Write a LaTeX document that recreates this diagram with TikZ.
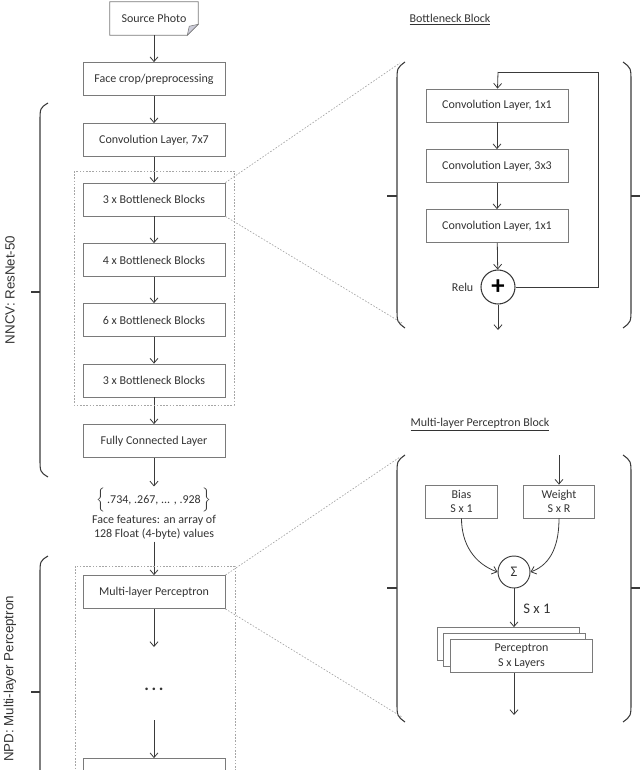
\documentclass[tikz,border=0pt]{standalone}
\usepackage{fontspec}
\setmainfont{Carlito}
\newfontfamily\sidefont{Liberation Sans}
\usetikzlibrary{arrows.meta,calc}

\definecolor{boxgray}{HTML}{7A7A7A}
\definecolor{txtgray}{HTML}{333333}
\definecolor{arrgray}{HTML}{3A3A3A}

\begin{document}
\begin{tikzpicture}[x=0.75pt,y=-0.75pt,
    font=\fontsize{9}{11}\selectfont, text=txtgray,
    layer/.style={draw=boxgray, line width=0.6pt, minimum width=106.5pt, minimum height=24.75pt, inner sep=1pt},
    small/.style={draw=boxgray, line width=0.6pt, minimum width=53.5pt, minimum height=24.75pt, align=center, inner sep=1pt},
    flow/.style={draw=arrgray, line width=0.6pt, -{Straight Barb[length=3.5pt,width=6pt]}},
    plain/.style={draw=arrgray, line width=0.6pt},
    zoomline/.style={draw=gray!70, line width=0.5pt, dash pattern=on 1.2pt off 1.2pt},
    brace/.style={draw=arrgray, line width=0.8pt},
    title/.style={font=\fontsize{9}{11}\selectfont}]

    \useasboundingbox (0,0) rectangle (640,770);
    \clip (0,0) rectangle (640,770);

    % main column
    \node[minimum width=66pt, minimum height=24.75pt] (src) at (154,18.5) {Source Photo};
    \draw[boxgray, line width=0.6pt] (src.north west) -- (src.north east) -- ($(src.south east)+(0,-11)$)
        -- ($(src.south east)+(-11,0)$) -- (src.south west) -- cycle;
    \filldraw[draw=boxgray, fill=blue!15!gray!35, line width=0.4pt] ($(src.south east)+(0,-11)$)
        -- ($(src.south east)+(-11,0)$) -- ($(src.south east)+(-9,-9)$) -- cycle;

    \node[layer] (crop) at (154,79)  {Face crop/preprocessing};
    \node[layer] (conv) at (154,140) {Convolution Layer, 7x7};
    \node[layer] (bn1)  at (154,199.5) {3 x Bottleneck Blocks};
    \node[layer] (bn2)  at (154,260) {4 x Bottleneck Blocks};
    \node[layer] (bn3)  at (154,320) {6 x Bottleneck Blocks};
    \node[layer] (bn4)  at (154,380.5) {3 x Bottleneck Blocks};
    \node[layer] (fc)   at (154,441) {Fully Connected Layer};
    \node[align=center, inner sep=1pt] (feat) at (154,514)
        {$\Bigl\{$\,.734, .267, ... , .928\,$\Bigr\}$\\[1pt] Face features: an array of\\ 128 Float (4-byte) values};
    \node[layer] (mlp)  at (154,592) {Multi-layer Perceptron};
    \coordinate (dtop) at (154,647);
    \node[inner sep=1pt, font=\bfseries\fontsize{13}{13}\selectfont] (dots) at (154,689) {.\hspace{2pt}.\hspace{2pt}.};
    \coordinate (dbot) at (154,720);
    \node[layer] (last) at (154,775) {};

    \draw[flow] (src) -- (crop);
    \draw[flow] (crop) -- (conv);
    \draw[flow] (conv) -- (bn1);
    \draw[flow] (bn1) -- (bn2);
    \draw[flow] (bn2) -- (bn3);
    \draw[flow] (bn3) -- (bn4);
    \draw[flow] (bn4) -- (fc);
    \draw[flow] (fc) -- (feat);
    \draw[flow] (feat) -- (mlp);
    \draw[flow] (mlp) -- (dtop);
    \draw[flow] (dbot) -- (last);

    % dotted groups
    \draw[zoomline] (74,171) rectangle (234,405);
    \draw[zoomline] (75,566) rectangle (235,790);

    % side braces
    \draw[brace] (48,103) .. controls (40,108) .. (40,122) -- (40,458) .. controls (40,472) .. (48,477);
    \draw[brace] (31,292) -- (40,292);
    \node[rotate=90, font=\sidefont\fontsize{10}{12}\selectfont] (nncv) at (10,290) {NNCV: ResNet-50};
    \draw[brace] (48,556) .. controls (40,561) .. (40,575) -- (40,800);
    \draw[brace] (31,692) -- (40,692);
    \node[rotate=90, font=\sidefont\fontsize{10}{12}\selectfont] (npd) at (10,679) {NPD: Multi-layer Perceptron};

    % panel parentheses
    \foreach \ya/\yb/\ym in {62/328/196, 455/722/588} {
        \draw[brace] (405,\ya) .. controls (397,\ya+6) .. (397,\ya+20) -- (397,\yb-20) .. controls (397,\yb-6) .. (405,\yb);
        \draw[brace] (387,\ym) -- (397,\ym);
        \draw[brace] (623,\ya) .. controls (631,\ya+6) .. (631,\ya+20) -- (631,\yb-20) .. controls (631,\yb-6) .. (623,\yb);
        \draw[brace] (631,\ym) -- (640,\ym);
    }

    % bottleneck block
    \node[title] (bntitle) at (450,20) {\underline{Bottleneck Block}};
    \coordinate (bin) at (498,72);
    \node[layer] (c1) at (497,105.5) {Convolution Layer, 1x1};
    \node[layer] (c2) at (497,166)   {Convolution Layer, 3x3};
    \node[layer] (c3) at (497,226)   {Convolution Layer, 1x1};
    \node[draw=arrgray, line width=0.8pt, circle, minimum size=25.5pt, inner sep=0pt,
          font=\bfseries\fontsize{20}{20}\selectfont, text=black] (plus) at (498,287) {+};
    \node[anchor=east] (relu) at (478,287) {Relu};
    \coordinate (bout) at (498,330);
    \draw[flow] (bin) -- (c1);
    \draw[flow] (c1) -- (c2);
    \draw[flow] (c2) -- (c3);
    \draw[flow] (c3) -- (plus);
    \draw[plain] (bin) -- (598,72) |- (plus.east);
    \draw[flow] (plus) -- (bout);

    \draw[zoomline] (bn1.north east) -- (400,63);
    \draw[zoomline] (bn1.south east) -- (402,323);

    % multi-layer perceptron block
    \node[title] (mlptitle) at (480,425) {\underline{Multi-layer Perceptron Block}};
    \coordinate (win) at (559,455);
    \node[small] (bias) at (461.5,501.5) {Bias\\S x 1};
    \node[small] (weight) at (559,501.5) {Weight\\S x R};
    \node[draw=arrgray, line width=0.7pt, circle, minimum size=24pt, inner sep=0pt,
          font=\fontsize{11}{11}\selectfont] (sig) at (514,572) {Σ};
    \node[font=\fontsize{11}{13}\selectfont] (sx1) at (537,609) {S x 1};
    \node[layer, fill=white] (p3) at (508,644) {};
    \node[layer, fill=white] (p2) at (514.5,650) {};
    \node[layer, fill=white, align=center] (p1) at (521.5,656) {Perceptron\\S x Layers};
    \coordinate (mout) at (514,715);
    \draw[flow] (win) -- (weight);
    \draw[flow] (bias.south) to[out=-90, in=160] (sig.west);
    \draw[flow] (weight.south) to[out=-90, in=20] (sig.east);
    \draw[flow] (sig) -- (sig |- p3.north);
    \draw[flow] (p1.south -| sig) -- (mout);

    \draw[zoomline] (mlp.north east) -- (400,457);
    \draw[zoomline] (mlp.south east) -- (402,717);
\end{tikzpicture}
\end{document}
